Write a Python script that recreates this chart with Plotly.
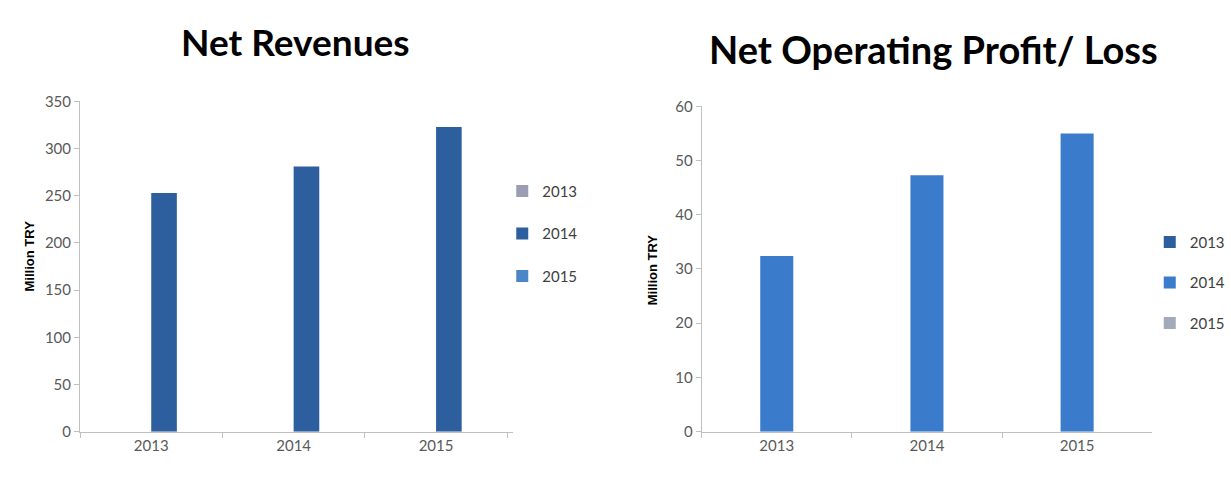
import plotly.graph_objects as go

categories = ["2013", "2014", "2015"]
series_names = ["2013", "2014", "2015"]

# Net Revenues (Million TRY): only the middle series carries the values
rev_2013 = [0, 0, 0]
rev_2014 = [253, 281, 323]
rev_2015 = [0, 0, 0]

# Net Operating Profit/ Loss (Million TRY)
prof_2013 = [0, 0, 0]
prof_2014 = [32.4, 47.3, 55.0]
prof_2015 = [0, 0, 0]

rev_ticks = [0, 50, 100, 150, 200, 250, 300, 350]
prof_ticks = [0, 10, 20, 30, 40, 50, 60]

left_colors = ["#9c9cb2", "#2d5f9f", "#4a86c8"]
right_colors = ["#2d5f9f", "#3b7bcb", "#a3abbb"]

FONT = "Lato, sans-serif"

fig = go.Figure()

left_vals = [rev_2013, rev_2014, rev_2015]
right_vals = [prof_2013, prof_2014, prof_2015]
left_offsets = [-0.36, 0.0, 0.36]
right_offsets = [-0.33, -0.11, 0.11]

for i, name in enumerate(series_names):
    fig.add_trace(go.Bar(
        x=categories, y=left_vals[i], name=name,
        marker=dict(color=left_colors[i], line=dict(width=0)),
        width=0.18, offset=left_offsets[i],
        xaxis="x", yaxis="y", legend="legend", legendgroup="L" + name,
    ))
for i, name in enumerate(series_names):
    fig.add_trace(go.Bar(
        x=categories, y=right_vals[i], name=name,
        marker=dict(color=right_colors[i], line=dict(width=0)),
        width=0.22, offset=right_offsets[i],
        xaxis="x2", yaxis="y2", legend="legend2", legendgroup="R" + name,
    ))

axis_common = dict(
    showline=True, linecolor="#c0c0c0", linewidth=1,
    ticks="outside", tickcolor="#c0c0c0", ticklen=5,
    showgrid=False, zeroline=False,
    tickfont=dict(family=FONT, size=15, color="#595959"),
)

fig.update_layout(
    width=1231, height=482,
    margin=dict(l=0, r=0, t=0, b=0),
    paper_bgcolor="white", plot_bgcolor="white",
    barmode="group",
    showlegend=True,
    xaxis=dict(domain=[0.065, 0.4167], anchor="y", type="category",
               tickson="boundaries", **axis_common),
    yaxis=dict(domain=[0.0913, 0.803], anchor="x", range=[0, 350],
               tickvals=rev_ticks, **axis_common),
    xaxis2=dict(domain=[0.570, 0.936], anchor="y2", type="category",
                tickson="boundaries", **axis_common),
    yaxis2=dict(domain=[0.0913, 0.7925], anchor="x2", range=[0, 60],
                tickvals=prof_ticks, **axis_common),
    legend=dict(x=0.408, y=0.645, xanchor="left", yanchor="top",
                font=dict(family=FONT, size=15, color="#404040"),
                tracegroupgap=20, itemwidth=30, bgcolor="rgba(0,0,0,0)"),
    legend2=dict(x=0.934, y=0.535, xanchor="left", yanchor="top",
                 font=dict(family=FONT, size=15, color="#404040"),
                 tracegroupgap=18, itemwidth=30, bgcolor="rgba(0,0,0,0)"),
    annotations=[
        dict(text="<b>Net Revenues</b>", x=0.24, y=0.932, xref="paper", yref="paper",
             xanchor="center", yanchor="middle",
             showarrow=False, font=dict(family=FONT, size=37, color="#000000")),
        dict(text="<b>Net Operating Profit/ Loss</b>", x=0.758, y=0.917, xref="paper", yref="paper",
             xanchor="center", yanchor="middle",
             showarrow=False, font=dict(family=FONT, size=38, color="#000000")),
        dict(text="<b>Million TRY</b>", x=0.024, y=0.47, xref="paper", yref="paper",
             xanchor="center", yanchor="middle",
             textangle=-90, showarrow=False,
             font=dict(family="Liberation Sans, Arial, sans-serif", size=13, color="#000000")),
        dict(text="<b>Million TRY</b>", x=0.53, y=0.44, xref="paper", yref="paper",
             xanchor="center", yanchor="middle",
             textangle=-90, showarrow=False,
             font=dict(family="Liberation Sans, Arial, sans-serif", size=13, color="#000000")),
    ],
)

fig.write_html("out.html")
